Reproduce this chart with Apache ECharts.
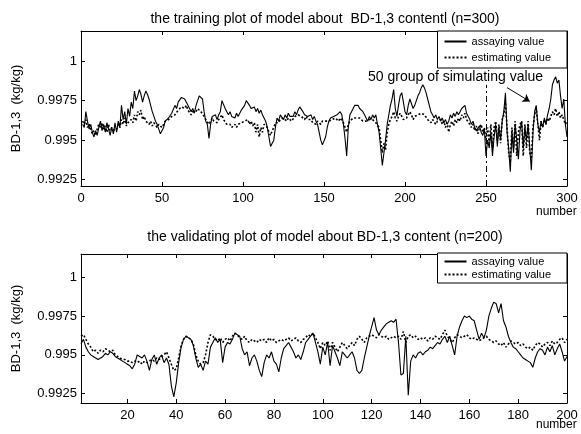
<!DOCTYPE html>
<html>
<head>
<meta charset="utf-8">
<script src="https://cdn.jsdelivr.net/npm/echarts@6/dist/echarts.min.js"></script>
<style>
  html, body { margin: 0; background: #fff; }
  #chart { width: 581px; height: 434px; }
</style>
</head>
<body>
<div id="chart"></div>
<script>
// training set, n=300
const trainAssay = [
  0.9960, 0.9958, 0.9968, 0.9962, 0.9957, 0.9960, 0.9955, 0.9952, 0.9956, 0.9953,
  0.9958, 0.9962, 0.9956, 0.9960, 0.9955, 0.9961, 0.9957, 0.9953, 0.9958, 0.9954,
  0.9961, 0.9955, 0.9962, 0.9958, 0.9972, 0.9963, 0.9968, 0.9960, 0.9970, 0.9965,
  0.9974, 0.9970, 0.9981, 0.9975, 0.9978, 0.9982, 0.9979, 0.9974, 0.9978, 0.9981,
  0.9979, 0.9976, 0.9972, 0.9968, 0.9965, 0.9962, 0.9960, 0.9957, 0.9954, 0.9955,
  0.9958, 0.9962, 0.9961, 0.9964, 0.9963, 0.9967, 0.9968, 0.9972, 0.9970, 0.9974,
  0.9973, 0.9977, 0.9978, 0.9976, 0.9977, 0.9972, 0.9970, 0.9968, 0.9970, 0.9967,
  0.9972, 0.9975, 0.9978, 0.9979, 0.9976, 0.9968, 0.9962, 0.9960, 0.9951, 0.9960,
  0.9965, 0.9964, 0.9966, 0.9963, 0.9966, 0.9968, 0.9975, 0.9974, 0.9970, 0.9968,
  0.9966, 0.9968, 0.9965, 0.9966, 0.9964, 0.9967, 0.9965, 0.9966, 0.9969, 0.9968,
  0.9972, 0.9975, 0.9974, 0.9972, 0.9970, 0.9969, 0.9971, 0.9968, 0.9970, 0.9967,
  0.9969, 0.9966, 0.9964, 0.9962, 0.9958, 0.9952, 0.9946, 0.9945, 0.9950, 0.9958,
  0.9964, 0.9962, 0.9966, 0.9965, 0.9963, 0.9966, 0.9964, 0.9967, 0.9965, 0.9966,
  0.9965, 0.9968, 0.9966, 0.9969, 0.9971, 0.9970, 0.9968, 0.9966, 0.9967, 0.9965,
  0.9964, 0.9966, 0.9963, 0.9965, 0.9962, 0.9960, 0.9955, 0.9950, 0.9947, 0.9948,
  0.9952, 0.9958, 0.9962, 0.9964, 0.9963, 0.9965, 0.9964, 0.9966, 0.9965, 0.9968,
  0.9966, 0.9960, 0.9951, 0.9940, 0.9958, 0.9966, 0.9968, 0.9970, 0.9972, 0.9971,
  0.9972, 0.9970, 0.9971, 0.9968, 0.9966, 0.9964, 0.9962, 0.9965, 0.9963, 0.9966,
  0.9964, 0.9966, 0.9960, 0.9955, 0.9945, 0.9934, 0.9942, 0.9950, 0.9960, 0.9966,
  0.9972, 0.9976, 0.9982, 0.9970, 0.9965, 0.9972, 0.9978, 0.9980, 0.9974, 0.9968,
  0.9966, 0.9972, 0.9976, 0.9977, 0.9970, 0.9972, 0.9975, 0.9978, 0.9980, 0.9983,
  0.9985, 0.9983, 0.9980, 0.9976, 0.9972, 0.9968, 0.9966, 0.9964, 0.9966, 0.9963,
  0.9965, 0.9962, 0.9964, 0.9961, 0.9963, 0.9960, 0.9962, 0.9966, 0.9964, 0.9967,
  0.9965, 0.9968, 0.9966, 0.9968, 0.9970, 0.9969, 0.9972, 0.9967, 0.9965, 0.9963,
  0.9960, 0.9962, 0.9958, 0.9956, 0.9957, 0.9959, 0.9955, 0.9953, 0.9957, 0.9940,
  0.9950, 0.9945, 0.9955, 0.9940, 0.9952, 0.9960, 0.9946, 0.9958, 0.9950, 0.9962,
  0.9968, 0.9980, 0.9955, 0.9945, 0.9930, 0.9955, 0.9942, 0.9960, 0.9950, 0.9938,
  0.9956, 0.9962, 0.9945, 0.9958, 0.9950, 0.9960, 0.9945, 0.9931, 0.9955, 0.9968,
  0.9972, 0.9960, 0.9955, 0.9962, 0.9958, 0.9964, 0.9960, 0.9966, 0.9970, 0.9976,
  0.9985, 0.9988, 0.9990, 0.9986, 0.9988, 0.9978, 0.9970, 0.9976, 0.9960, 0.9952
];
const trainEstimate = [
  0.9962, 0.9960, 0.9963, 0.9958, 0.9960, 0.9957, 0.9954, 0.9956, 0.9953, 0.9957,
  0.9960, 0.9958, 0.9961, 0.9957, 0.9959, 0.9955, 0.9960, 0.9956, 0.9958, 0.9955,
  0.9959, 0.9957, 0.9960, 0.9958, 0.9963, 0.9960, 0.9964, 0.9959, 0.9961, 0.9960,
  0.9963, 0.9961, 0.9966, 0.9962, 0.9968, 0.9966, 0.9969, 0.9963, 0.9965, 0.9962,
  0.9961, 0.9960, 0.9962, 0.9959, 0.9961, 0.9960, 0.9958, 0.9960, 0.9959, 0.9958,
  0.9960, 0.9962, 0.9961, 0.9963, 0.9962, 0.9965, 0.9964, 0.9966, 0.9967, 0.9969,
  0.9968, 0.9971, 0.9972, 0.9970, 0.9972, 0.9969, 0.9968, 0.9966, 0.9968, 0.9967,
  0.9968, 0.9970, 0.9969, 0.9968, 0.9967, 0.9965, 0.9963, 0.9962, 0.9960, 0.9962,
  0.9964, 0.9962, 0.9963, 0.9961, 0.9963, 0.9964, 0.9966, 0.9963, 0.9962, 0.9960,
  0.9959, 0.9960, 0.9958, 0.9959, 0.9960, 0.9958, 0.9960, 0.9959, 0.9961, 0.9960,
  0.9962, 0.9961, 0.9963, 0.9960, 0.9962, 0.9959, 0.9961, 0.9955, 0.9960, 0.9952,
  0.9958, 0.9955, 0.9960, 0.9961, 0.9958, 0.9955, 0.9953, 0.9956, 0.9958, 0.9961,
  0.9962, 0.9961, 0.9963, 0.9962, 0.9964, 0.9963, 0.9962, 0.9964, 0.9963, 0.9962,
  0.9963, 0.9965, 0.9964, 0.9966, 0.9967, 0.9965, 0.9964, 0.9963, 0.9965, 0.9963,
  0.9962, 0.9963, 0.9961, 0.9962, 0.9960, 0.9962, 0.9961, 0.9960, 0.9962, 0.9961,
  0.9962, 0.9963, 0.9962, 0.9961, 0.9963, 0.9962, 0.9964, 0.9963, 0.9962, 0.9964,
  0.9963, 0.9961, 0.9958, 0.9955, 0.9960, 0.9962, 0.9963, 0.9964, 0.9965, 0.9964,
  0.9965, 0.9964, 0.9963, 0.9962, 0.9963, 0.9962, 0.9961, 0.9963, 0.9962, 0.9963,
  0.9962, 0.9961, 0.9960, 0.9958, 0.9950, 0.9942, 0.9948, 0.9944, 0.9955, 0.9960,
  0.9963, 0.9965, 0.9968, 0.9964, 0.9962, 0.9965, 0.9967, 0.9966, 0.9963, 0.9962,
  0.9964, 0.9966, 0.9968, 0.9966, 0.9963, 0.9965, 0.9964, 0.9966, 0.9965, 0.9967,
  0.9968, 0.9966, 0.9965, 0.9963, 0.9962, 0.9961, 0.9963, 0.9962, 0.9960, 0.9962,
  0.9961, 0.9963, 0.9960, 0.9962, 0.9958, 0.9961, 0.9955, 0.9960, 0.9962, 0.9959,
  0.9963, 0.9961, 0.9964, 0.9962, 0.9966, 0.9964, 0.9967, 0.9963, 0.9962, 0.9960,
  0.9958, 0.9960, 0.9956, 0.9959, 0.9954, 0.9958, 0.9960, 0.9955, 0.9958, 0.9950,
  0.9958, 0.9948, 0.9960, 0.9945, 0.9958, 0.9962, 0.9950, 0.9960, 0.9948, 0.9963,
  0.9966, 0.9974, 0.9958, 0.9942, 0.9936, 0.9958, 0.9945, 0.9962, 0.9940, 0.9955,
  0.9960, 0.9962, 0.9940, 0.9960, 0.9945, 0.9962, 0.9942, 0.9938, 0.9958, 0.9966,
  0.9970, 0.9960, 0.9950, 0.9962, 0.9958, 0.9963, 0.9960, 0.9964, 0.9962, 0.9965,
  0.9968, 0.9966, 0.9970, 0.9965, 0.9968, 0.9964, 0.9966, 0.9963, 0.9960, 0.9962
];
// validation set, n=200
const validAssay = [
  0.9957, 0.9960, 0.9955, 0.9952, 0.9950, 0.9949, 0.9948, 0.9947, 0.9948, 0.9949,
  0.9951, 0.9950, 0.9952, 0.9951, 0.9949, 0.9948, 0.9947, 0.9946, 0.9945, 0.9944,
  0.9943, 0.9941, 0.9944, 0.9950, 0.9949, 0.9948, 0.9950, 0.9946, 0.9940, 0.9947,
  0.9950, 0.9944, 0.9948, 0.9950, 0.9945, 0.9948, 0.9944, 0.9930, 0.9923, 0.9932,
  0.9945, 0.9955, 0.9960, 0.9962, 0.9961, 0.9960, 0.9956, 0.9948, 0.9942, 0.9944,
  0.9940, 0.9946, 0.9944, 0.9955, 0.9958, 0.9961, 0.9958, 0.9960, 0.9945, 0.9955,
  0.9958, 0.9957, 0.9960, 0.9964, 0.9963, 0.9962, 0.9954, 0.9950, 0.9952, 0.9943,
  0.9948, 0.9950, 0.9946, 0.9940, 0.9936, 0.9945, 0.9950, 0.9948, 0.9952, 0.9946,
  0.9944, 0.9939, 0.9948, 0.9954, 0.9956, 0.9958, 0.9955, 0.9952, 0.9948, 0.9950,
  0.9947, 0.9952, 0.9958, 0.9960, 0.9962, 0.9964, 0.9958, 0.9952, 0.9944, 0.9955,
  0.9950, 0.9958, 0.9943, 0.9956, 0.9952, 0.9948, 0.9943, 0.9952, 0.9950, 0.9948,
  0.9950, 0.9952, 0.9948, 0.9940, 0.9938, 0.9940, 0.9948, 0.9955, 0.9962, 0.9968,
  0.9974, 0.9966, 0.9963, 0.9966, 0.9968, 0.9970, 0.9971, 0.9972, 0.9971, 0.9973,
  0.9958, 0.9937, 0.9938, 0.9962, 0.9924, 0.9946, 0.9950, 0.9948, 0.9951, 0.9952,
  0.9950, 0.9952, 0.9953, 0.9955, 0.9954, 0.9956, 0.9958, 0.9957, 0.9960, 0.9962,
  0.9958, 0.9962, 0.9956, 0.9950, 0.9962, 0.9968, 0.9972, 0.9975, 0.9974, 0.9975,
  0.9973, 0.9972, 0.9966, 0.9960, 0.9964, 0.9961, 0.9966, 0.9975, 0.9980, 0.9984,
  0.9983, 0.9977, 0.9983, 0.9972, 0.9968, 0.9962, 0.9958, 0.9955, 0.9954, 0.9952,
  0.9950, 0.9948, 0.9947, 0.9946, 0.9945, 0.9942, 0.9948, 0.9952, 0.9954, 0.9953,
  0.9950, 0.9955, 0.9952, 0.9956, 0.9950, 0.9954, 0.9957, 0.9952, 0.9946, 0.9949
];
const validEstimate = [
  0.9962, 0.9963, 0.9960, 0.9957, 0.9955, 0.9952, 0.9953, 0.9951, 0.9953, 0.9952,
  0.9954, 0.9953, 0.9952, 0.9953, 0.9950, 0.9949, 0.9948, 0.9947, 0.9947, 0.9946,
  0.9946, 0.9945, 0.9946, 0.9945, 0.9946, 0.9944, 0.9946, 0.9945, 0.9946, 0.9947,
  0.9946, 0.9948, 0.9947, 0.9949, 0.9950, 0.9952, 0.9948, 0.9944, 0.9940, 0.9941,
  0.9948, 0.9956, 0.9960, 0.9962, 0.9961, 0.9960, 0.9957, 0.9950, 0.9946, 0.9944,
  0.9945, 0.9950, 0.9958, 0.9963, 0.9962, 0.9960, 0.9959, 0.9961, 0.9958, 0.9960,
  0.9961, 0.9959, 0.9962, 0.9964, 0.9963, 0.9961, 0.9960, 0.9962, 0.9959, 0.9958,
  0.9960, 0.9959, 0.9958, 0.9960, 0.9959, 0.9960, 0.9958, 0.9961, 0.9959, 0.9960,
  0.9958, 0.9959, 0.9960, 0.9959, 0.9960, 0.9961, 0.9959, 0.9960, 0.9961, 0.9959,
  0.9958, 0.9960, 0.9961, 0.9963, 0.9962, 0.9964, 0.9961, 0.9958, 0.9954, 0.9958,
  0.9956, 0.9959, 0.9953, 0.9958, 0.9955, 0.9952, 0.9955, 0.9958, 0.9956, 0.9954,
  0.9956, 0.9958, 0.9956, 0.9960, 0.9962, 0.9960, 0.9958, 0.9961, 0.9962, 0.9963,
  0.9962, 0.9961, 0.9963, 0.9962, 0.9961, 0.9962, 0.9960, 0.9961, 0.9962, 0.9961,
  0.9962, 0.9960, 0.9965, 0.9958, 0.9962, 0.9963, 0.9961, 0.9962, 0.9960, 0.9961,
  0.9960, 0.9961, 0.9959, 0.9961, 0.9960, 0.9962, 0.9961, 0.9960, 0.9963, 0.9966,
  0.9962, 0.9960, 0.9958, 0.9961, 0.9963, 0.9962, 0.9961, 0.9962, 0.9963, 0.9961,
  0.9960, 0.9961, 0.9960, 0.9959, 0.9960, 0.9961, 0.9962, 0.9960, 0.9959, 0.9958,
  0.9959, 0.9957, 0.9956, 0.9958, 0.9955, 0.9957, 0.9959, 0.9958, 0.9957, 0.9958,
  0.9956, 0.9957, 0.9955, 0.9954, 0.9955, 0.9953, 0.9956, 0.9958, 0.9957, 0.9955,
  0.9957, 0.9958, 0.9956, 0.9959, 0.9957, 0.9958, 0.9960, 0.9961, 0.9958, 0.9960
];

const seriesNames = ['assaying value', 'estimating value'];
const yTicks = [0.9925, 0.995, 0.9975, 1];
const trainTicksX = [0, 50, 100, 150, 200, 250, 300];
const validTicksX = [20, 40, 60, 80, 100, 120, 140, 160, 180, 200];
// where the "50 group of simulating value" part starts, and the arrow pointing at it
const simStart = 250;
const arrowFrom = [263, 0.99832];
const arrowTo = [277, 0.99745];

const FONT = 'Liberation Sans, Arial, sans-serif';
const black = '#000';

const chart = echarts.init(document.getElementById('chart'));

// matlab-ish box axis: ticks pointing inwards on all four sides
function xAx(grid, pos, min, max, ticks, showLabel) {
  return {
    type: 'value', gridIndex: grid, position: pos, min: min, max: max,
    axisLine: { show: true, onZero: false, lineStyle: { color: black, width: 1 } },
    axisTick: { show: true, inside: true, length: 4, customValues: ticks, lineStyle: { color: black } },
    axisLabel: { show: showLabel, customValues: ticks, color: black, fontSize: 13, fontFamily: FONT, margin: 6 },
    splitLine: { show: false }
  };
}
function yAx(grid, pos, min, max, showLabel) {
  return {
    type: 'value', gridIndex: grid, position: pos, min: min, max: max,
    name: showLabel ? 'BD-1,3  (kg/kg)' : '',
    nameLocation: 'middle', nameGap: 58, nameRotate: 90,
    nameTextStyle: { color: black, fontSize: 13, fontFamily: FONT },
    axisLine: { show: true, onZero: false, lineStyle: { color: black, width: 1 } },
    axisTick: { show: true, inside: true, length: 4, customValues: yTicks, lineStyle: { color: black } },
    axisLabel: { show: showLabel, customValues: yTicks, color: black, fontSize: 13, fontFamily: FONT, margin: 4 },
    splitLine: { show: false }
  };
}

function legendAt(top, gap, pad) {
  return {
    data: seriesNames, orient: 'vertical', right: 14, top: top,
    padding: pad, itemGap: gap, itemWidth: 22, itemHeight: 10,
    itemStyle: { opacity: 0 },
    backgroundColor: '#fff', borderColor: black, borderWidth: 1, borderRadius: 0,
    textStyle: { color: black, fontSize: 11, fontFamily: FONT }
  };
}

function lineSeries(name, x, y, values, dotted, start) {
  return {
    name: name, type: 'line', xAxisIndex: x, yAxisIndex: y,
    data: values.map((v, i) => [i + start, v]),
    symbol: 'none', animation: false,
    lineStyle: { color: black, width: dotted ? 1.6 : 1.1, type: dotted ? [2, 2] : 'solid' },
    itemStyle: { color: black }
  };
}

const s0 = lineSeries(seriesNames[0], 0, 0, trainAssay, false, 1);
s0.markLine = {
  silent: true, symbol: 'none', animation: false,
  label: { show: false },
  lineStyle: { color: black, width: 1, type: [6, 3, 2, 3] },
  data: [[{ coord: [simStart, 0.9921] }, { coord: [simStart, 0.9985] }]]
};
const s1 = lineSeries(seriesNames[1], 0, 0, trainEstimate, true, 1);
s1.markLine = {
  silent: true, symbol: ['none', 'arrow'], symbolSize: 7, animation: false,
  label: { show: false },
  lineStyle: { color: black, width: 1, type: 'solid' },
  data: [[{ coord: arrowFrom }, { coord: arrowTo }]]
};

chart.setOption({
  backgroundColor: '#fff',
  animation: false,
  textStyle: { fontFamily: FONT },
  title: [
    { text: 'the training plot of model about  BD-1,3 contentl (n=300)', left: 320, top: 7, textAlign: 'center',
      textStyle: { color: black, fontSize: 14, fontWeight: 'normal', fontFamily: FONT } },
    { text: 'the validating plot of model about BD-1,3 content (n=200)', left: 320, top: 225, textAlign: 'center',
      textStyle: { color: black, fontSize: 14, fontWeight: 'normal', fontFamily: FONT } }
  ],
  legend: [legendAt(31, 5, [5, 16, 5, 6]), legendAt(253, 2, [3, 16, 3, 6])],
  grid: [
    { left: 81, right: 14, top: 31, height: 155, containLabel: false },
    { left: 81, right: 14, top: 254, height: 149, containLabel: false }
  ],
  xAxis: [
    xAx(0, 'bottom', 0, 300, trainTicksX, true),
    xAx(0, 'top', 0, 300, trainTicksX, false),
    xAx(1, 'bottom', 1, 200, validTicksX, true),
    xAx(1, 'top', 1, 200, validTicksX, false)
  ],
  yAxis: [
    yAx(0, 'left', 0.9921, 1.0019, true),
    yAx(0, 'right', 0.9921, 1.0019, false),
    yAx(1, 'left', 0.9919, 1.0015, true),
    yAx(1, 'right', 0.9919, 1.0015, false)
  ],
  graphic: [
    { type: 'text', left: 368, top: 70, style: { text: '50 group of simulating value', fill: black, font: '14px ' + FONT } },
    { type: 'text', left: 536, top: 206, style: { text: 'number', fill: black, font: '12px ' + FONT } },
    { type: 'text', left: 536, top: 419, style: { text: 'number', fill: black, font: '12px ' + FONT } }
  ],
  series: [
    s0, s1,
    lineSeries(seriesNames[0], 2, 2, validAssay, false, 1),
    lineSeries(seriesNames[1], 2, 2, validEstimate, true, 1)
  ]
});
</script>
</body>
</html>
